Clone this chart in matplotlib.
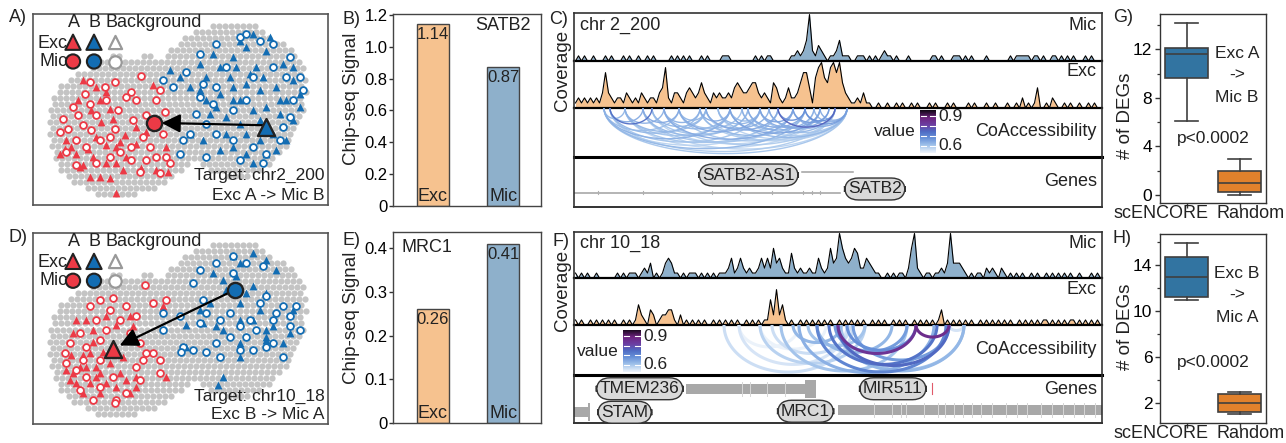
import numpy as np
import matplotlib
matplotlib.use("Agg")
import matplotlib.pyplot as plt
from matplotlib.colors import LinearSegmentedColormap, Normalize
from matplotlib.patches import Rectangle

plt.rcParams['font.family'] = ['Liberation Sans', 'DejaVu Sans']
plt.rcParams['text.color'] = '#222222'
plt.rcParams['axes.edgecolor'] = '#444444'

# =============================================================================
# DATA
# =============================================================================
# --- UMAP panels (A, D), in the picture's own units (x right, y down)
# grey background cloud as horizontal runs: (y, x_start, x_end)
bg_runs = [
    (77, 640, 770), (95, 580, 790), (113, 555, 820), (131, 535, 850),
    (149, 515, 875), (167, 330, 365), (167, 425, 465), (167, 495, 895),
    (185, 305, 905), (203, 270, 910), (221, 235, 915), (239, 205, 920),
    (257, 185, 922), (275, 172, 922), (293, 163, 918), (311, 158, 915),
    (329, 153, 912), (347, 150, 908), (365, 150, 902), (383, 150, 895),
    (401, 152, 888), (419, 155, 880), (437, 158, 868), (455, 162, 852),
    (473, 168, 832), (491, 175, 565), (491, 600, 812), (509, 185, 545),
    (509, 635, 785), (527, 198, 525), (527, 680, 750), (545, 222, 500),
    (563, 255, 465), (581, 295, 405),
]

a_red_ring = [(425, 228), (395, 275), (410, 300), (355, 330), (320, 300), (270, 310),
              (290, 345), (345, 385), (400, 360), (300, 420), (230, 420), (180, 395),
              (190, 355), (235, 345), (250, 375), (275, 390), (200, 455), (230, 495),
              (290, 490), (330, 470), (360, 455), (395, 480), (420, 515), (470, 470),
              (500, 470), (510, 490), (430, 410), (450, 440), (490, 400), (470, 300),
              (495, 335), (480, 270), (255, 280), (315, 260), (270, 245), (345, 245),
              (380, 290), (440, 345), (465, 380), (220, 320), (330, 410), (260, 440),
              (480, 520), (440, 480), (395, 440), (205, 385)]
a_red_tri = [(460, 255), (275, 330), (320, 275), (235, 300), (305, 365), (340, 355),
             (375, 405), (410, 430), (320, 435), (265, 445), (215, 440), (180, 460),
             (250, 495), (320, 490), (350, 490), (300, 530), (330, 535), (270, 530),
             (240, 500), (370, 510), (425, 505), (470, 510), (505, 515), (350, 580),
             (500, 440), (200, 420), (280, 470), (380, 470), (350, 440), (290, 260),
             (250, 240), (330, 325), (230, 460), (290, 410), (440, 395), (410, 380),
             (360, 425), (300, 300), (195, 445)]
a_blue_ring = [(490, 240), (520, 260), (540, 460), (570, 400), (620, 470), (700, 420),
               (560, 215), (600, 160), (650, 130), (720, 110), (780, 120), (820, 130),
               (870, 170), (910, 270), (870, 350), (850, 380), (800, 460), (760, 440),
               (640, 310), (600, 290), (590, 340), (700, 330), (740, 300), (760, 230),
               (820, 200), (680, 200), (650, 260), (880, 300), (840, 420), (720, 480),
               (790, 490), (650, 400), (610, 250), (740, 100), (860, 230), (900, 230),
               (620, 370), (550, 420)]
a_blue_tri = [(510, 210), (540, 230), (570, 260), (620, 230), (660, 200), (700, 170),
              (740, 140), (760, 100), (800, 150), (850, 190), (880, 240), (900, 320),
              (860, 300), (830, 260), (780, 270), (740, 250), (700, 260), (660, 280),
              (620, 300), (630, 340), (680, 350), (720, 370), (760, 330), (800, 320),
              (840, 340), (880, 360), (820, 400), (780, 420), (740, 400), (700, 440),
              (800, 460), (760, 490), (570, 400), (610, 420), (660, 450), (740, 460),
              (690, 230), (720, 300), (770, 200), (830, 450), (600, 190), (880, 200),
              (640, 160), (720, 120), (810, 110), (600, 270), (650, 320), (700, 300),
              (780, 360), (840, 300), (900, 280), (750, 220), (680, 400), (860, 420),
              (790, 230), (710, 200)]

d_red_ring = [(435, 195), (460, 250), (300, 240), (340, 235), (380, 260), (330, 270),
              (290, 300), (360, 300), (410, 290), (320, 330), (240, 340), (210, 370),
              (260, 380), (300, 360), (390, 340), (420, 370), (440, 400), (410, 440),
              (420, 480), (380, 520), (350, 540), (300, 500), (260, 470), (230, 450),
              (200, 430), (250, 420), (300, 420), (340, 470), (240, 510), (280, 540),
              (480, 460), (500, 240), (270, 260), (345, 550), (460, 400), (480, 420),
              (430, 420), (195, 400)]
d_red_tri = [(490, 258), (230, 300), (260, 300), (320, 290), (350, 315), (390, 290),
             (400, 320), (280, 330), (215, 405), (250, 405), (290, 440), (330, 430),
             (220, 460), (260, 440), (300, 460), (360, 460), (410, 470), (230, 490),
             (270, 490), (320, 490), (350, 500), (390, 520), (250, 520), (300, 520),
             (410, 500), (500, 470), (210, 480), (270, 400), (240, 440), (200, 450),
             (280, 365), (340, 400), (370, 410), (220, 340), (310, 395), (380, 480),
             (290, 470)]
d_blue_ring = [(600, 150), (580, 190), (610, 240), (650, 130), (700, 110), (740, 130),
               (700, 160), (790, 140), (620, 280), (490, 280), (490, 330), (550, 380),
               (545, 395), (580, 390), (620, 395), (650, 370), (690, 350), (720, 320),
               (740, 350), (760, 390), (720, 390), (800, 380), (820, 370), (850, 410),
               (870, 290), (900, 330), (870, 320), (820, 300), (780, 250), (830, 280),
               (660, 300), (690, 280), (540, 290), (660, 410), (750, 300), (800, 230),
               (850, 260), (600, 310), (890, 260), (770, 330)]
d_blue_tri = [(700, 110), (720, 130), (760, 100), (800, 120), (830, 150), (710, 170),
              (670, 180), (640, 160), (680, 210), (760, 200), (740, 220), (800, 220),
              (780, 270), (760, 300), (650, 320), (670, 330), (600, 270), (610, 310),
              (560, 315), (720, 300), (800, 330), (800, 350), (820, 320), (880, 270),
              (870, 340), (850, 370), (800, 360), (720, 370), (720, 410), (670, 470),
              (655, 495), (560, 380), (720, 250), (630, 250)]

# --- Chip-seq bars
chip_cells = ["Exc", "Mic"]
chip_satb2 = [1.14, 0.87]
chip_mrc1 = [0.26, 0.41]

# --- coverage tracks: one digit per genomic bin (176 bins per region)
cov_c_mic = ("0101001000" "1010001010" "0100101000" "0010101010"
             "0010100001" "1100000000" "1010110000" "0011212492"
             "1321011241" "1100111010" "1012110100" "0100000001"
             "1010001110" "1010000100" "0000010111" "1101101001"
             "1010101000" "101000")
cov_c_exc = ("1212121213" "7321221321" "2132122134" "8213321343"
             "2353213232" "2324543345" "5323215421" "2422357741"
             "6896589795" "3211213110" "0100100101" "0010100010"
             "1000101000" "0101000100" "1000100102" "0101400102"
             "1001010010" "010100")
cov_f_mic = ("1010100100" "0000101011" "1012130101" "3431101011"
             "1010101011" "1241242121" "1242426342" "1152121121"
             "1421263496" "4346522432" "1100101011" "0269210110"
             "1121393332" "1010110212" "1021010101" "0010100101"
             "0101010010" "001010")
cov_f_exc = ("1010010101" "0101001010" "1421032012" "2331020101"
             "0101001010" "1010100101" "0101152724" "1010010101"
             "0101010010" "1010101001" "0101001010" "1001010101"
             "0130101010" "1010010101" "0101010010" "1010101101"
             "0101011010" "101010")

# --- co-accessibility links: (start bin, end bin, value)
c_arcs = [(10, 91, .60), (10, 77, .62), (12, 87, .59), (10, 52, .63), (12, 26, .74),
          (12, 42, .62), (17, 68, .60), (17, 44, .62), (23, 58, .62), (23, 91, .58),
          (30, 73, .64), (30, 52, .62), (35, 82, .60), (35, 62, .64), (42, 77, .62),
          (42, 87, .59), (44, 68, .64), (52, 91, .62), (52, 82, .65), (58, 87, .62),
          (58, 77, .64), (62, 91, .60), (68, 87, .76), (73, 91, .64), (77, 87, .68),
          (77, 91, .66), (44, 91, .58), (17, 82, .57), (12, 62, .60), (23, 73, .60),
          (30, 87, .59), (10, 68, .58), (62, 82, .64), (68, 77, .68), (35, 44, .62),
          (12, 23, .64), (52, 62, .62), (82, 91, .64), (23, 35, .64), (42, 52, .64),
          (10, 17, .62), (26, 44, .62), (48, 73, .61), (56, 91, .59), (65, 87, .62),
          (10, 35, .61), (17, 30, .63), (26, 58, .60), (30, 42, .63), (35, 56, .61),
          (44, 65, .63), (48, 62, .62), (56, 80, .63), (62, 73, .65), (65, 85, .64),
          (73, 85, .66), (80, 91, .63), (17, 52, .60), (26, 80, .58), (48, 91, .58)]
f_arcs = [(50, 93, .56), (55, 75, .53), (62, 84, .53), (66, 92, .56), (73, 89, .62),
          (81, 124, .70), (88, 114, .84), (114, 125, .86), (88, 130, .62), (93, 125, .66),
          (85, 121, .73), (87, 111, .66), (89, 130, .60), (81, 106, .62), (78, 97, .60),
          (125, 130, .55), (55, 91, .55), (62, 97, .58), (69, 111, .60), (75, 120, .63),
          (91, 114, .68), (88, 125, .75)]

# --- genes: (name, start bin, end bin, row height in track)
c_genes = [("SATB2-AS1", 76.0, 93.0, 0.71), ("SATB2", 0.0, 88.7, 0.28)]
c_exon_ticks = [8, 23, 46, 55.3, 66, 76.3, 79.2, 82]
f_genes = [("TMEM236", 37.3, 78.0, 0.714), ("STAM", 0.0, 4.7, 0.224),
           ("MRC1", 88.0, 176.0, 0.265), ("MIR511", 119.3, 119.6, 0.714)]
f_exon_blocks = [(76.9, 80.8, 0.714), (4.5, 5.3, 0.224)]
f_exon_ticks = [56, 58.5, 64.4, 70.3, 100, 106, 109, 110.7, 116.6, 121.4, 123.8,
                126.7, 129.7, 132.7, 135.6, 139.2, 143.9, 147.5, 151.1, 155.8,
                159.4, 162.9, 166.5, 170, 173.6]

# --- number of DEGs (box statistics)
deg_groups = ["scENCORE", "Random"]
g_whislo, g_q1, g_med, g_q3, g_whishi = [6.1, 0.0], [9.6, 0.24], [11.6, 1.0], [12.1, 2.0], [14.15, 3.0]
h_whislo, h_q1, h_med, h_q3, h_whishi = [11.0, 1.02], [11.24, 1.25], [12.98, 2.03], [14.72, 2.76], [15.94, 2.98]

# =============================================================================
# STYLE
# =============================================================================
RED = '#EC3A46'
BLUE = '#136DB3'
GREY = '#C4C4C4'
EXC_FILL = '#F6C28F'
MIC_FILL = '#8EB0CB'
BOX_COLS = ['#3274A1', '#E1812C']
VMIN, VMAX = 0.525, 0.965
coacc_cmap = LinearSegmentedColormap.from_list(
    'coacc', [(0.0, '#EEF4FB'), (0.18, '#9FC1EA'), (0.35, '#6690D8'),
              (0.5, '#4F6CC4'), (0.65, '#6B3FA3'), (0.82, '#6E2480'), (1.0, '#120714')])
coacc_norm = Normalize(VMIN, VMAX)

fig = plt.figure(figsize=(12.86, 4.43), dpi=100)
W, H = 1286.0, 443.0


def px_ax(x0, y0, x1, y1):
    return fig.add_axes([x0 / W, 1 - y1 / H, (x1 - x0) / W, (y1 - y0) / H])


def px_text(x, y, s, **kw):
    kw.setdefault('fontsize', 13)
    kw.setdefault('va', 'center')
    return fig.text(x / W, 1 - y / H, s, **kw)


def frame(ax, color='#555555', lw=1.1):
    for sp in ax.spines.values():
        sp.set_color(color)
        sp.set_linewidth(lw)


# =============================================================================
# UMAP PANELS
# =============================================================================
def draw_umap(ax, red_ring, red_tri, blue_ring, blue_tri, ybot):
    bx, by = [], []
    for y, x0, x1 in bg_runs:
        off = 9 * (((y - 77) // 18) % 2)
        xs = np.arange(x0 + off, x1 + 1, 18)
        bx.extend(xs)
        by.extend([y] * len(xs))
    ax.scatter(bx, by, s=20, c=GREY, lw=0, zorder=1)
    ax.scatter(*zip(*red_tri), marker='^', s=32, c=RED, lw=0, zorder=3)
    ax.scatter(*zip(*red_ring), marker='o', s=24, facecolors='white',
               edgecolors=RED, lw=1.3, zorder=3)
    ax.scatter(*zip(*blue_tri), marker='^', s=32, c=BLUE, lw=0, zorder=3)
    ax.scatter(*zip(*blue_ring), marker='o', s=24, facecolors='white',
               edgecolors=BLUE, lw=1.3, zorder=3)
    ax.set_xlim(100, 985)
    ax.set_ylim(ybot, 40)
    ax.set_xticks([])
    ax.set_yticks([])
    frame(ax, '#555555', 1.2)
    # legend
    ax.text(222, 65, 'A', ha='center', va='center', fontsize=13)
    ax.text(285, 65, 'B', ha='center', va='center', fontsize=13)
    ax.text(318, 65, 'Background', ha='left', va='center', fontsize=13)
    ax.text(204, 128, 'Exc', ha='right', va='center', fontsize=13)
    ax.text(204, 183, 'Mic', ha='right', va='center', fontsize=13)
    ax.scatter([220, 283], [125, 125], marker='^', s=120, c=[RED, BLUE],
               edgecolors='#222222', lw=1.5, zorder=4)
    ax.scatter([345], [125], marker='^', s=90, facecolors='white',
               edgecolors='#999999', lw=1.6, zorder=4)
    ax.scatter([220, 283], [183, 183], marker='o', s=105, c=[RED, BLUE],
               edgecolors='#222222', lw=1.5, zorder=4)
    ax.scatter([345], [183], marker='o', s=80, facecolors='white',
               edgecolors='#999999', lw=1.6, zorder=4)


def arrow(ax, tail, head):
    ax.annotate('', xy=head, xytext=tail, zorder=5,
                arrowprops=dict(arrowstyle='-|>,head_length=0.8,head_width=0.4',
                                color='k', lw=1.6, shrinkA=0, shrinkB=0,
                                mutation_scale=14))


ax_a = px_ax(33, 14, 328, 205)
draw_umap(ax_a, a_red_ring, a_red_tri, a_blue_ring, a_blue_tri, 615)
ax_a.scatter([462], [368], marker='o', s=120, c=RED, edgecolors='#222222', lw=1.7, zorder=4)
arrow(ax_a, (795, 375), (486, 368))
ax_a.scatter([800], [380], marker='^', s=150, c=BLUE, edgecolors='#222222', lw=1.7, zorder=6)
ax_a.text(975, 525, 'Target: chr2_200', ha='right', va='center', fontsize=12.5)
ax_a.text(975, 585, 'Exc A -> Mic B', ha='right', va='center', fontsize=12.5)

ax_d = px_ax(33, 233, 328, 424)
draw_umap(ax_d, d_red_ring, d_red_tri, d_blue_ring, d_blue_tri, 612)
ax_d.scatter([340], [388], marker='^', s=150, c=RED, edgecolors='#222222', lw=1.7, zorder=4)
arrow(ax_d, (700, 213), (360, 377))
ax_d.scatter([705], [210], marker='o', s=120, c=BLUE, edgecolors='#222222', lw=1.7, zorder=6)
ax_d.text(975, 530, 'Target: chr10_18', ha='right', va='center', fontsize=12.5)
ax_d.text(975, 585, 'Exc B -> Mic A', ha='right', va='center', fontsize=12.5)


# =============================================================================
# CHIP-SEQ BARS
# =============================================================================
def draw_chip(ax, vals, ymax, ticks, labels):
    ax.bar(range(len(vals)), vals, width=0.46, color=[EXC_FILL, MIC_FILL],
           edgecolor='#444444', lw=1)
    for i, (v, lab) in enumerate(zip(vals, chip_cells)):
        ax.annotate(f'{v:.2f}', (i, v), xytext=(0, -2), textcoords='offset points',
                    ha='center', va='top', fontsize=12)
        ax.annotate(lab, (i, 0), xytext=(0, 1), textcoords='offset points',
                    ha='center', va='bottom', fontsize=13)
    ax.set_xlim(-0.57, 1.54)
    ax.set_ylim(0, ymax)
    ax.set_xticks([])
    ax.set_yticks(ticks)
    ax.set_yticklabels(labels, fontsize=12)
    ax.tick_params(axis='y', length=3, width=1, color='#333333', pad=1)
    frame(ax, '#444444', 1.0)


ax_b = px_ax(393, 14, 541, 206)
draw_chip(ax_b, chip_satb2, 1.205, [0, 0.2, 0.4, 0.6, 0.8, 1.0, 1.2],
          ['0', '0.2', '0.4', '0.6', '0.8', '1.0', '1.2'])
ax_b.text(0.93, 0.94, 'SATB2', transform=ax_b.transAxes, ha='right', va='center', fontsize=13)

ax_e = px_ax(393, 232, 541, 423)
draw_chip(ax_e, chip_mrc1, 0.437, [0, 0.1, 0.2, 0.3, 0.4], ['0', '0.1', '0.2', '0.3', '0.4'])
ax_e.text(0.06, 0.92, 'MRC1', transform=ax_e.transAxes, ha='left', va='center', fontsize=13)

px_text(352, 99, 'Chip-seq Signal', rotation=90, ha='center', fontsize=13.5)
px_text(352, 318, 'Chip-seq Signal', rotation=90, ha='center', fontsize=13.5)


# =============================================================================
# TRACK PANELS
# =============================================================================
NBIN = 176
TX0, TX1 = 574, 1102


def track_ax(y0, y1, top=True, bottom_lw=1.6):
    ax = px_ax(TX0, y0, TX1, y1)
    ax.set_xlim(0, NBIN)
    ax.set_xticks([])
    ax.set_yticks([])
    for side in ['left', 'right', 'top']:
        ax.spines[side].set_color('#333333')
        ax.spines[side].set_linewidth(1.2)
    ax.spines['top'].set_visible(top)
    ax.spines['bottom'].set_color('black')
    ax.spines['bottom'].set_linewidth(bottom_lw)
    ax.patch.set_alpha(0)
    return ax


def draw_cov(ax, digits, fill):
    v = np.array([int(ch) for ch in digits], float)
    x = np.arange(len(v)) + 0.5
    ax.fill_between(x, 0, v, color=fill, lw=0)
    ax.plot(x, v, color='black', lw=0.8)
    ax.set_ylim(0, 9.3)


def draw_arcs(ax, arcs, depth, lw, alpha):
    th = np.linspace(0, np.pi, 80)
    for s, e, val in sorted(arcs, key=lambda a: a[2]):
        mid, half = (s + e) / 2.0, (e - s) / 2.0
        ax.plot(mid + half * np.cos(th), -depth(e - s) * np.sin(th),
                color=coacc_cmap(coacc_norm(val)), lw=lw, alpha=alpha,
                solid_capstyle='butt')
    ax.set_ylim(-1, 0)


def colorbar(x0, y0, x1, y1):
    cax = px_ax(x0, y0, x1, y1)
    grad = np.linspace(VMAX, VMIN, 120)[:, None]
    cax.imshow(grad, aspect='auto', cmap=coacc_cmap, norm=coacc_norm,
               extent=(0, 1, VMIN, VMAX))
    for v in [0.6, 0.7, 0.8, 0.9]:
        cax.plot([0.05, 0.35], [v, v], color='white', lw=0.8)
        cax.plot([0.65, 0.95], [v, v], color='white', lw=0.8)
    cax.set_xlim(0, 1)
    cax.set_ylim(VMIN, VMAX)
    cax.axis('off')
    tr = cax.get_yaxis_transform()
    cax.text(1.15, 0.9, '0.9', transform=tr, ha='left', va='center', fontsize=12.5)
    cax.text(1.15, 0.6, '0.6', transform=tr, ha='left', va='center', fontsize=12.5)
    cax.text(-0.25, 0.5, 'value', transform=cax.transAxes, ha='right', va='center', fontsize=12.5)


def gene_label(ax, x, y, name):
    ax.text(x, y, name, ha='center', va='center', fontsize=12.5, zorder=5,
            bbox=dict(boxstyle='round,pad=0.2,rounding_size=0.8', fc='#D9D9D9',
                      ec='#333333', lw=1))


# ---- panel C
c_mic = track_ax(13, 61)
draw_cov(c_mic, cov_c_mic, MIC_FILL)
c_exc = track_ax(61, 108, top=False)
draw_cov(c_exc, cov_c_exc, EXC_FILL)
c_co = track_ax(108, 157, top=False, bottom_lw=2.2)
draw_arcs(c_co, c_arcs, lambda span: 0.93 * (span / 81.0) ** 0.6, 1.0, 0.95)
c_gene = track_ax(157, 207, top=False, bottom_lw=1.4)
c_gene.spines['bottom'].set_color('#333333')
c_gene.set_ylim(0, 1)
for name, s, e, y in c_genes:
    c_gene.plot([s, e], [y, y], color='#A0A0A0', lw=1.1, zorder=1)
for x in c_exon_ticks:
    c_gene.plot([x, x], [0.25, 0.31], color='#B0B0B0', lw=0.8, zorder=1)
gene_label(c_gene, 58.2, 0.64, 'SATB2-AS1')
gene_label(c_gene, 100.3, 0.36, 'SATB2')
colorbar(920, 110, 936, 153)

px_text(580, 25, 'chr 2_200', ha='left')
px_text(1097, 25, 'Mic', ha='right')
px_text(1097, 72, 'Exc', ha='right')
px_text(1097, 132, 'CoAccessibility', ha='right')
px_text(1097, 182, 'Genes', ha='right')
px_text(562, 70, 'Coverage', rotation=90, ha='center', fontsize=13.5)

# ---- panel F
f_mic = track_ax(232, 278)
draw_cov(f_mic, cov_f_mic, MIC_FILL)
f_exc = track_ax(278, 325, top=False)
draw_cov(f_exc, cov_f_exc, EXC_FILL)
f_co = track_ax(325, 375, top=False, bottom_lw=2.2)
draw_arcs(f_co, f_arcs, lambda span: min(0.95, span * 0.0219), 2.2, 1.0)
f_gene = track_ax(375, 423, top=False, bottom_lw=1.4)
f_gene.spines['bottom'].set_color('#333333')
f_gene.set_ylim(0, 1)
for name, s, e, y in f_genes:
    if name == 'MIR511':
        f_gene.plot([s, s], [y - 0.12, y + 0.12], color='#E05A6A', lw=0.8, zorder=1)
    else:
        f_gene.add_patch(Rectangle((s, y - 0.1), e - s, 0.2, color='#A8A8A8', lw=0, zorder=1))
for s, e, y in f_exon_blocks:
    f_gene.add_patch(Rectangle((s, y - 0.19), e - s, 0.38, color='#A8A8A8', lw=0, zorder=1))
for x in f_exon_ticks:
    y = 0.714 if x < 85 else 0.265
    f_gene.plot([x, x], [y - 0.15, y + 0.15], color='#D6D6D6', lw=0.7, zorder=2)
gene_label(f_gene, 21.9, 0.714, 'TMEM236')
gene_label(f_gene, 16.9, 0.224, 'STAM')
gene_label(f_gene, 77.2, 0.245, 'MRC1')
gene_label(f_gene, 106.3, 0.714, 'MIR511')
colorbar(623, 330, 641, 372)

px_text(580, 243, 'chr 10_18', ha='left')
px_text(1097, 244, 'Mic', ha='right')
px_text(1097, 290, 'Exc', ha='right')
px_text(1097, 350, 'CoAccessibility', ha='right')
px_text(1097, 390, 'Genes', ha='right')
px_text(562, 290, 'Coverage', rotation=90, ha='center', fontsize=13.5)


# =============================================================================
# DEG BOX PLOTS
# =============================================================================
def draw_deg(ax, lo, q1, med, q3, hi, ylim, ticks, minor, label_y):
    stats = [dict(med=m, q1=a, q3=b, whislo=l, whishi=h, fliers=[])
             for l, a, m, b, h in zip(lo, q1, med, q3, hi)]
    line = dict(color='#3F3F3F', lw=1.2)
    bp = ax.bxp(stats, positions=[0, 1], widths=0.8, patch_artist=True,
                showfliers=False, capwidths=0.42,
                boxprops=dict(edgecolor='#3F3F3F', lw=1.2),
                medianprops=line, whiskerprops=line, capprops=line)
    for patch, col in zip(bp['boxes'], BOX_COLS):
        patch.set_facecolor(col)
    ax.set_xlim(-0.5, 1.5)
    ax.set_ylim(*ylim)
    ax.set_xticks([0, 1])
    ax.set_xticklabels(['', ''])
    ax.set_yticks(ticks)
    ax.set_yticklabels([str(t) for t in ticks], fontsize=12.5)
    ax.set_yticks(minor, minor=True)
    ax.tick_params(axis='both', length=3.5, width=1, color='#333333', pad=2)
    ax.tick_params(axis='y', which='minor', length=2.5, width=0.9, color='#333333')
    frame(ax, '#333333', 1.0)
    for x, s in zip([1161, 1251], deg_groups):
        px_text(x, label_y, s, ha='center', fontsize=13)


ax_g = px_ax(1160, 14, 1266, 203)
draw_deg(ax_g, g_whislo, g_q1, g_med, g_q3, g_whishi, (-0.66, 14.9),
         [0, 4, 8, 12], [2, 6, 10, 14], 214)
ax_h = px_ax(1160, 234, 1266, 423)
draw_deg(ax_h, h_whislo, h_q1, h_med, h_q3, h_whishi, (0.26, 16.7),
         [2, 6, 10, 14], [4, 8, 12, 16], 434)

for y, s in [(53, 'Exc A'), (75, '->'), (97, 'Mic B')]:
    px_text(1237, y, s, ha='center', fontsize=12.5)
px_text(1213, 139, 'p<0.0002', ha='center', fontsize=12.5)
for y, s in [(273, 'Exc B'), (295, '->'), (317, 'Mic A')]:
    px_text(1237, y, s, ha='center', fontsize=12.5)
px_text(1213, 362, 'p<0.0002', ha='center', fontsize=12.5)
px_text(1125, 116, '# of DEGs', rotation=90, ha='center', fontsize=13.5)
px_text(1125, 327, '# of DEGs', rotation=90, ha='center', fontsize=13.5)

# =============================================================================
# PANEL LETTERS
# =============================================================================
for x, y, s in [(9, 18, 'A)'), (343, 19, 'B)'), (549, 20, 'C)'), (1113, 18, 'G)'),
                (9, 238, 'D)'), (343, 240, 'E)'), (552, 241, 'F)'), (1113, 239, 'H)')]:
    px_text(x, y, s, ha='left', fontsize=13)

fig.savefig('out.png', dpi=100)
